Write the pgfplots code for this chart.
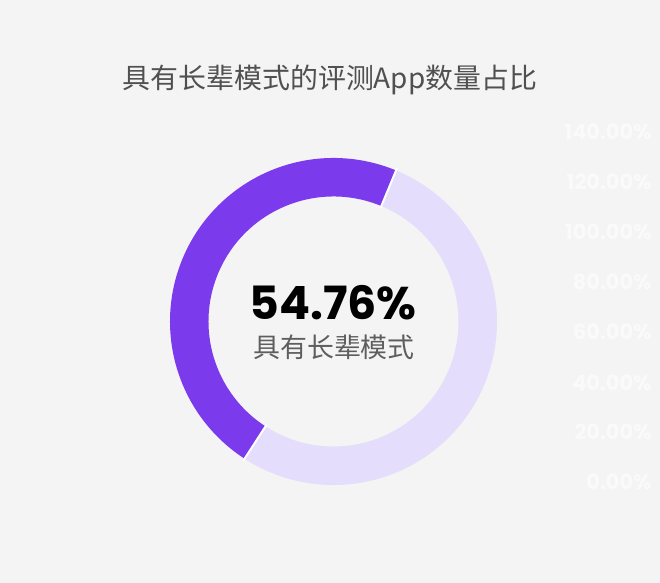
\documentclass[border=0pt]{standalone}
\usepackage{pgfplots}
\pgfplotsset{compat=1.18}
\usepackage{pgfplotstable}
\usepackage{fontspec}
\setmainfont{Noto Sans CJK SC}
\newfontfamily\numfont{Poppins}
\definecolor{ringA}{HTML}{7C3AED}
\definecolor{ringB}{HTML}{E4DDFB}
\definecolor{bg}{HTML}{F4F4F4}
\definecolor{titlegray}{HTML}{505050}
\definecolor{subgray}{HTML}{5E5E5E}

% share of evaluated apps (arc as drawn in the reference)
\pgfplotstableread{
part value
yes 47.1
no 52.9
}\sharetable

\begin{document}
\begin{tikzpicture}[ghost/.style={anchor=east, text=white, text opacity=0.55, font=\numfont\bfseries\fontsize{21}{24}\selectfont}]
\useasboundingbox (0,0) rectangle (660bp,583bp);
\fill[bg] (0,0) rectangle (660bp,583bp);
\pgfplotstablegetelem{0}{value}\of\sharetable \let\va\pgfplotsretval
\pgfplotstablegetelem{1}{value}\of\sharetable \let\vb\pgfplotsretval
\pgfmathsetmacro{\sharefrac}{\va/(\va+\vb)}
\pgfmathsetmacro{\startang}{67.5}
\pgfmathsetmacro{\midang}{\startang+360*\sharefrac}
\pgfmathsetmacro{\endang}{\startang+360}
\begin{axis}[at={(0,0)}, anchor=south west, scale only axis,
  width=660bp, height=583bp, xmin=0, xmax=660, ymin=0, ymax=583,
  y dir=reverse, hide axis, clip=false]
  % faint ghost tick labels on the right
  \node[ghost] at (axis cs:655,132) {140.00\%};
  \node[ghost] at (axis cs:655,182) {120.00\%};
  \node[ghost] at (axis cs:655,232) {100.00\%};
  \node[ghost] at (axis cs:655,282) {80.00\%};
  \node[ghost] at (axis cs:655,332) {60.00\%};
  \node[ghost] at (axis cs:655,383) {40.00\%};
  \node[ghost] at (axis cs:655,432) {20.00\%};
  \node[ghost] at (axis cs:655,482) {0.00\%};
  \coordinate (c) at (axis cs:333.5,321.5);
  \draw[ringB, line width=38.5bp] (c) ++(\midang:144.25bp) arc[start angle=\midang, end angle=\endang, radius=144.25bp];
  \draw[ringA, line width=38.5bp] (c) ++(\startang:144.25bp) arc[start angle=\startang, end angle=\midang, radius=144.25bp];
  \draw[white, line width=2bp] ([shift={(\startang:123bp)}]c) -- ([shift={(\startang:166bp)}]c);
  \draw[white, line width=2bp] ([shift={(\midang:123bp)}]c) -- ([shift={(\midang:166bp)}]c);
  \node[text=titlegray, font=\fontsize{28}{31}\selectfont] at (axis cs:330,80) {具有长辈模式的评测App数量占比};
  \node[text=black, font=\numfont\bfseries\fontsize{46}{50}\selectfont] at (axis cs:333,303) {54.76\%};
  \node[text=subgray, font=\fontsize{27}{30}\selectfont] at (axis cs:334,347) {具有长辈模式};
\end{axis}
\end{tikzpicture}
\end{document}
